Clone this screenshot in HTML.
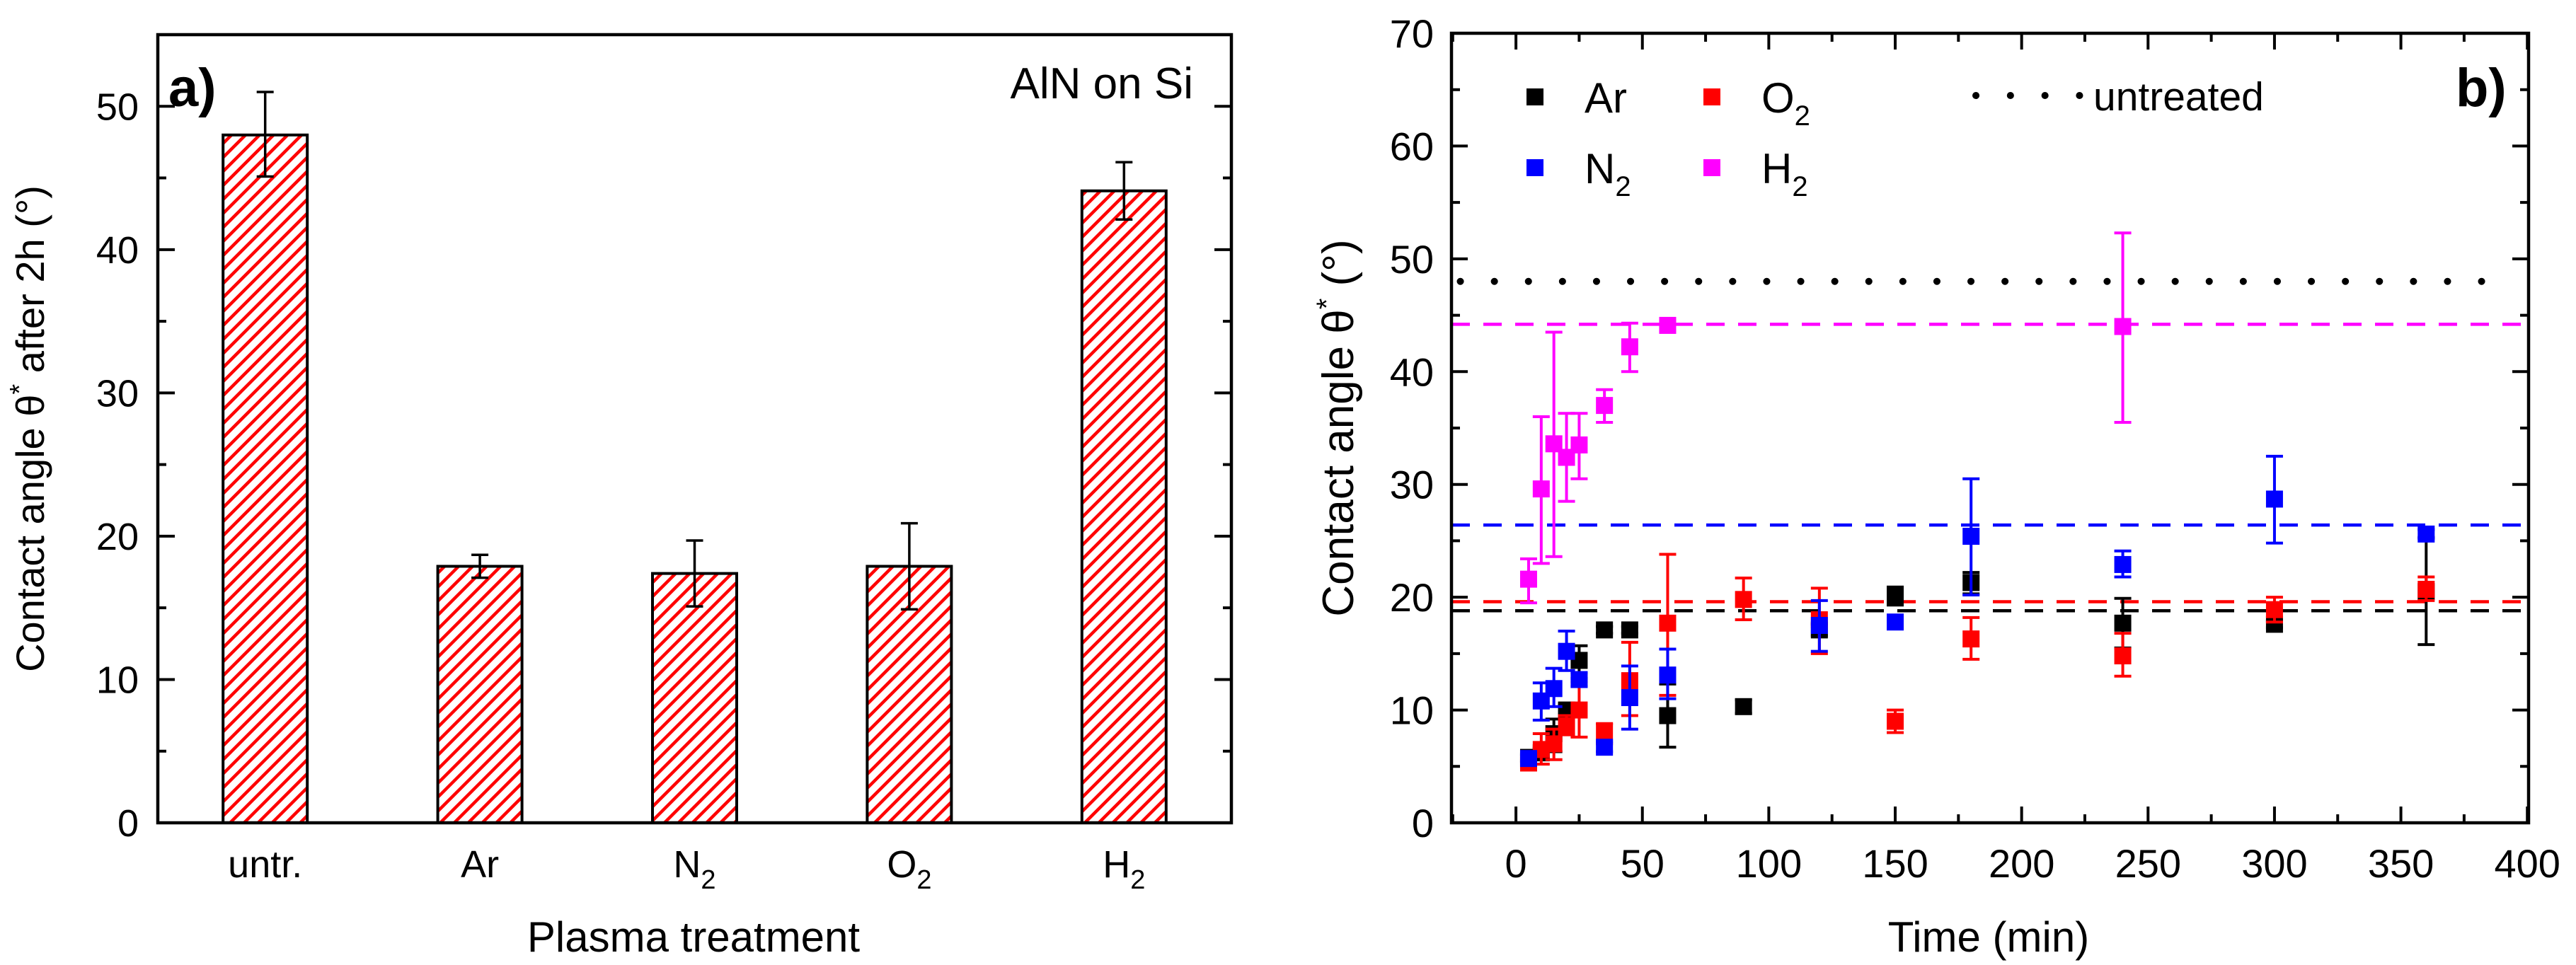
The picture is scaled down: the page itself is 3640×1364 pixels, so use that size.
<!DOCTYPE html>
<html><head><meta charset="utf-8">
<style>
html,body{margin:0;padding:0;background:#fff;}
svg{display:block;}
text{font-family:"Liberation Sans",Arial,sans-serif;fill:#000;}
</style></head>
<body>
<svg id="fig" width="3640" height="1364" viewBox="0 0 3640 1364" xmlns="http://www.w3.org/2000/svg">
<defs>
<pattern id="hatch" patternUnits="userSpaceOnUse" width="14" height="14" patternTransform="rotate(45)">
<rect x="0" y="0" width="14" height="14" fill="#fff"/>
<rect x="0" y="0" width="4.5" height="14" fill="#ff0000"/>
</pattern>
</defs>
<g id="chartA"></g>
<g id="chartB"></g>
</svg>
<script>
// ---- Chart a) data ----
const catLabels = ["untr.", "Ar", "N", "O", "H"];
const catSubs = ["", "", "2", "2", "2"];
const barValues = [48.0, 17.9, 17.4, 17.9, 44.1];
const barHi = [51.0, 18.7, 19.7, 20.9, 46.1];
const barLo = [45.1, 17.1, 15.1, 14.9, 42.1];
const aYTicks = [0, 10, 20, 30, 40, 50];

// ---- Chart b) data ----
const arT = [5, 10, 15, 20, 25, 35, 45, 60, 90, 120, 150, 180, 240, 300, 360];
const arV = [5.8, 6.2, 7.9, 10.0, 14.4, 17.1, 17.1, 9.5, 10.3, 17.1, 20.1, 21.3, 17.7, 17.6, 20.5];
const arHi = [6.1, 6.6, 9.2, 10.4, 15.7, 17.4, 17.4, 12.3, 10.9, 17.6, 20.9, 22.2, 19.9, 17.9, 25.3];
const arLo = [5.5, 5.8, 6.3, 9.6, 12.8, 16.8, 16.8, 6.7, 9.7, 16.6, 19.3, 20.3, 15.5, 17.3, 15.8];
const o2T = [5, 10, 15, 20, 25, 35, 45, 60, 90, 120, 150, 180, 240, 300, 360];
const o2V = [5.3, 6.5, 7.0, 8.6, 10.0, 8.1, 12.6, 17.7, 19.8, 18.0, 9.0, 16.3, 14.8, 18.9, 20.7];
const o2Hi = [5.7, 7.9, 8.3, 9.5, 12.5, 8.8, 16.0, 23.8, 21.7, 20.8, 10.0, 18.2, 16.8, 20.0, 21.8];
const o2Lo = [4.9, 5.2, 5.6, 7.8, 7.6, 7.0, 9.5, 11.3, 18.0, 15.0, 8.0, 14.5, 13.0, 17.8, 19.7];
const n2T = [5, 10, 15, 20, 25, 35, 45, 60, 120, 150, 180, 240, 300, 360];
const n2V = [5.7, 10.8, 11.9, 15.2, 12.7, 6.7, 11.1, 13.1, 17.5, 17.8, 25.4, 22.9, 28.7, 25.6];
const n2Hi = [6.0, 12.4, 13.7, 17.0, 13.3, 7.2, 13.9, 15.4, 19.7, 18.1, 30.5, 24.1, 32.5, 26.0];
const n2Lo = [5.4, 9.1, 10.3, 13.5, 12.1, 6.3, 8.3, 11.0, 15.2, 17.2, 20.2, 21.8, 24.8, 25.2];
const h2T = [5, 10, 15, 20, 25, 35, 45, 60, 240];
const h2V = [21.6, 29.6, 33.6, 32.4, 33.5, 37.0, 42.2, 44.1, 44.0];
const h2Hi = [23.4, 36.0, 43.5, 36.3, 36.3, 38.4, 44.3, 44.5, 52.3];
const h2Lo = [19.5, 23.0, 23.6, 28.5, 30.5, 35.5, 40.0, 43.6, 35.5];
const refNames = ["untreated", "H2", "N2", "O2", "Ar"];
const refValues = [48.0, 44.2, 26.4, 19.6, 18.8];
const bXTicks = [0, 50, 100, 150, 200, 250, 300, 350, 400];
const bYTicks = [0, 10, 20, 30, 40, 50, 60, 70];

const NS = "http://www.w3.org/2000/svg";
function mk(parent, tag, attrs) {
  const e = document.createElementNS(NS, tag);
  for (const k in attrs) e.setAttribute(k, attrs[k]);
  parent.appendChild(e);
  return e;
}

// ================= Chart a =================
(function () {
  const g = document.getElementById("chartA");
  const L = 223, R = 1740, T = 49, B = 1163;
  const yMin = 0, yMax = 55;
  const y = v => B - (v - yMin) / (yMax - yMin) * (B - T);
  const step = (R - L) / catLabels.length;
  const x = i => L + (i + 0.5) * step;
  const bw = 119;

  for (let i = 0; i < barValues.length; i++) {
    const r = mk(g, "rect", {x: x(i) - bw / 2, y: y(barValues[i]), width: bw, height: y(0) - y(barValues[i]), fill: "url(#hatch)", stroke: "#000", "stroke-width": 4});
    
    
    const eb = mk(g, "path", {d: `M${x(i)},${y(barHi[i])}V${y(barLo[i])}M${x(i)-12},${y(barHi[i])}h24M${x(i)-12},${y(barLo[i])}h24`, stroke: "#000", "stroke-width": 3.5, fill: "none"});
    
    
    const t = mk(g, "text", {x: x(i), y: 1240, "text-anchor": "middle", "font-size": 54});
    t.textContent = catLabels[i];
    if (catSubs[i]) {
      const s = document.createElementNS(NS, "tspan");
      s.setAttribute("font-size", 38); s.setAttribute("dy", 16);
      s.textContent = catSubs[i]; t.appendChild(s);
    }
    
    
  }
  let d = "";
  for (let v = 0; v <= 55; v += 5) {
    const len = v % 10 === 0 ? 24 : 12;
    d += `M${L},${y(v)}h${len}M${R},${y(v)}h${-len}`;
  }
  const tk = mk(g, "path", {d: d, stroke: "#000", "stroke-width": 4});
  
  
  aYTicks.forEach(v => {
    const t = mk(g, "text", {x: 196, y: y(v) + 19, "text-anchor": "end", "font-size": 54});
    t.textContent = v;
    
    
  });
  const fr = mk(g, "rect", {x: L, y: T, width: R - L, height: B - T, fill: "none", stroke: "#000", "stroke-width": 4.5});
  
  

  const a = mk(g, "text", {x: 238, y: 150, "font-size": 76, "font-weight": "bold"});
  a.textContent = "a)";
  
  
  const s = mk(g, "text", {x: 1686, y: 139, "text-anchor": "end", "font-size": 62});
  s.textContent = "AlN on Si";
  
  
  const xt = mk(g, "text", {x: 980, y: 1345, "text-anchor": "middle", "font-size": 60});
  xt.textContent = "Plasma treatment";
  
  
  const yt = mk(g, "text", {x: 0, y: 0, "text-anchor": "middle", "font-size": 56, transform: `translate(62,${(T + B) / 2}) rotate(-90)`});
  yt.innerHTML = 'Contact angle θ<tspan font-size="38" dy="-22">*</tspan><tspan dy="22"> after 2h (°)</tspan>';
  
  
})();

// ================= Chart b =================
(function () {
  const g = document.getElementById("chartB");
  const L = 2051, R = 3573, T = 47, B = 1163;
  const xMin = -25.5, xMax = 400.5, yMin = 0, yMax = 70;
  const x = v => L + (v - xMin) / (xMax - xMin) * (R - L);
  const y = v => B - (v - yMin) / (yMax - yMin) * (B - T);

  const refColors = ["#000", "#ff00ff", "#0000ff", "#ff0000", "#000"];
  refValues.forEach((v, i) => {
    let ln;
    if (i === 0) {
      ln = mk(g, "line", {x1: x(-22), x2: x(384), y1: y(v), y2: y(v), stroke: "#000", "stroke-width": 10, "stroke-linecap": "round", "stroke-dasharray": "0.1 48"});
    } else {
      ln = mk(g, "line", {x1: L, x2: R, y1: y(v), y2: y(v), stroke: refColors[i], "stroke-width": 4.5, "stroke-dasharray": "26 19"});
    }
    
    
  });

  function series(name, color, T_, V, Hi, Lo) {
    const sg = mk(g, "g", {});
    
    
    for (let i = 0; i < T_.length; i++) {
      const cx = x(T_[i]);
      const eb = mk(sg, "path", {d: `M${cx},${y(Hi[i])}V${y(Lo[i])}M${cx-12},${y(Hi[i])}h24M${cx-12},${y(Lo[i])}h24`, stroke: color, "stroke-width": 4, fill: "none"});
      
      
      const m = mk(sg, "rect", {x: cx - 12, y: y(V[i]) - 12, width: 24, height: 24, fill: color});
      
      
    }
  }
  series("ar", "#000000", arT, arV, arHi, arLo);
  series("o2", "#ff0000", o2T, o2V, o2Hi, o2Lo);
  series("n2", "#0000ff", n2T, n2V, n2Hi, n2Lo);
  series("h2", "#ff00ff", h2T, h2V, h2Hi, h2Lo);

  let d = "";
  for (let v = 0; v <= 70; v += 5) {
    const len = v % 10 === 0 ? 23 : 12;
    d += `M${L},${y(v)}h${len}M${R},${y(v)}h${-len}`;
  }
  for (let v = -25; v <= 400; v += 25) {
    const len = v % 50 === 0 ? 23 : 12;
    d += `M${x(v)},${B}v${-len}M${x(v)},${T}v${len}`;
  }
  const tk = mk(g, "path", {d: d, stroke: "#000", "stroke-width": 4});
  
  
  bYTicks.forEach(v => {
    const t = mk(g, "text", {x: 2026, y: y(v) + 20, "text-anchor": "end", "font-size": 56});
    t.textContent = v;
    
    
  });
  bXTicks.forEach(v => {
    const t = mk(g, "text", {x: x(v), y: 1240, "text-anchor": "middle", "font-size": 56});
    t.textContent = v;
    
    
  });
  const fr = mk(g, "rect", {x: L, y: T, width: R - L, height: B - T, fill: "none", stroke: "#000", "stroke-width": 4.5});
  
  

  const leg = mk(g, "g", {});
  
  
  const items = [["Ar", "", "#000", 2169, 137], ["O", "2", "#ff0000", 2419, 137], ["N", "2", "#0000ff", 2169, 237], ["H", "2", "#ff00ff", 2419, 237]];
  items.forEach(it => {
    const m = mk(leg, "rect", {x: it[3] - 12, y: it[4] - 12, width: 24, height: 24, fill: it[2]});
    
    
    const t = mk(leg, "text", {x: it[3] + 70, y: it[4] + 22, "font-size": 60});
    t.textContent = it[0];
    if (it[1]) {
      const s = document.createElementNS(NS, "tspan");
      s.setAttribute("font-size", 40); s.setAttribute("dy", 18);
      s.textContent = it[1]; t.appendChild(s);
    }
    
    
  });
  const dl = mk(leg, "line", {x1: 2792, x2: 2940, y1: 135, y2: 135, stroke: "#000", "stroke-width": 10, "stroke-linecap": "round", "stroke-dasharray": "0.1 48.7"});
  
  
  const ut = mk(leg, "text", {x: 2958, y: 156, "font-size": 57});
  ut.textContent = "untreated";
  
  

  const b = mk(g, "text", {x: 3470, y: 150, "font-size": 76, "font-weight": "bold"});
  b.textContent = "b)";
  
  
  const xt = mk(g, "text", {x: 2810, y: 1345, "text-anchor": "middle", "font-size": 60});
  xt.textContent = "Time (min)";
  
  
  const yt = mk(g, "text", {x: 0, y: 0, "text-anchor": "middle", "font-size": 62, transform: `translate(1912,${(T + B) / 2}) rotate(-90)`});
  yt.innerHTML = 'Contact angle θ<tspan font-size="40" dy="-24">*</tspan><tspan dy="24"> (°)</tspan>';
  
  
})();
</script>
</body></html>
